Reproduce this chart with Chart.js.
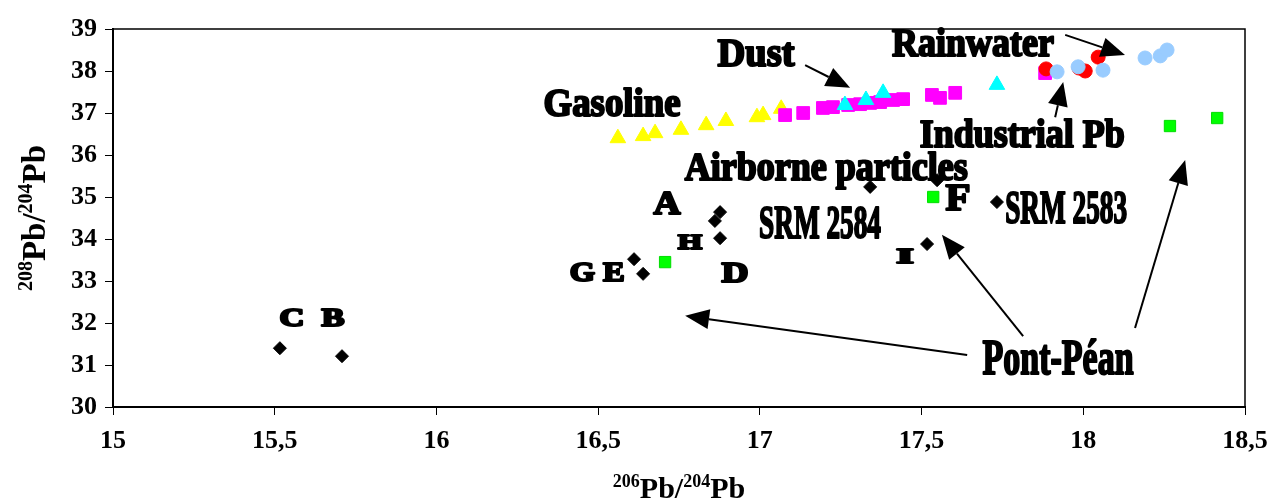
<!DOCTYPE html>
<html>
<head>
<meta charset="utf-8">
<script src="https://cdn.jsdelivr.net/npm/chart.js@4.4.1/dist/chart.umd.min.js"></script>
<style>
  html, body { margin: 0; padding: 0; background: #fff; }
  #wrap { width: 1273px; height: 502px; }
</style>
</head>
<body>
<div id="wrap"><canvas id="grafico"></canvas></div>
<script>
// Ticks dos eixos
const ticksX = [15, 15.5, 16, 16.5, 17, 17.5, 18, 18.5];
const ticksY = [30, 31, 32, 33, 34, 35, 36, 37, 38, 39];

// Séries: x = 206Pb/204Pb, y = 208Pb/204Pb
const gasolineX = [16.561, 16.639, 16.676, 16.756, 16.834, 16.895, 16.991, 17.010, 17.066];
const gasolineY = [36.40, 36.45, 36.52, 36.60, 36.71, 36.81, 36.90, 36.95, 37.10];

const dustX = [17.263, 17.328, 17.381, 17.733];
const dustY = [37.19, 37.31, 37.48, 37.67];

const magentaX = [17.078, 17.134, 17.195, 17.226, 17.273, 17.310, 17.341, 17.372, 17.412, 17.443, 17.532, 17.557, 17.604, 17.882];
const magentaY = [36.95, 37.00, 37.12, 37.14, 37.19, 37.21, 37.24, 37.26, 37.31, 37.33, 37.43, 37.36, 37.48, 37.95];

const rainX = [17.885, 17.987, 18.006, 18.046];
const rainY = [38.05, 38.07, 38.00, 38.33];

const industrialX = [17.919, 17.984, 18.061, 18.191, 18.238, 18.259];
const industrialY = [37.98, 38.10, 38.02, 38.31, 38.36, 38.50];

const airborneX = [15.516, 15.708, 16.611, 16.639, 16.861, 16.877, 16.877, 17.341, 17.548, 17.517, 17.733];
const airborneY = [31.40, 31.21, 33.52, 33.17, 34.43, 34.64, 34.02, 35.24, 35.40, 33.88, 34.88];

const pontPeanX = [16.707, 17.536, 18.268, 18.414];
const pontPeanY = [33.45, 35.00, 36.69, 36.88];

// Rótulos (texto) e onde ficam, em coordenadas dos dados
const labelTexts = ["Gasoline", "Dust", "Rainwater", "Industrial Pb", "Airborne particles", "A", "SRM 2584", "H", "F", "SRM 2583", "G E", "D", "I", "C  B", "Pont-Péan"];
const labelX = [16.543, 16.988, 17.659, 17.811, 17.205, 16.713, 17.186, 16.784, 17.613, 17.947, 16.497, 16.923, 17.449, 15.615, 17.922];
const labelY = [37.26, 38.45, 38.69, 36.52, 35.71, 34.86, 34.40, 33.93, 34.98, 34.76, 33.21, 33.21, 33.60, 32.14, 31.19];
// tamanho da fonte e largura final em px
const labelSize = [41, 41, 41, 41, 39, 34, 47, 22, 38, 47, 28, 30, 22, 26, 50];
const labelWidth = [137, 77, 162, 205, 283, 27, 122, 24, 25, 122, 55, 27, 17, 65, 151];

// Setas: [x0, y0, x1, y1] (ponta em x1, y1)
const arrows = [
  [17.140, 38.14, 17.279, 37.60],
  [17.944, 38.86, 18.129, 38.38],
  [17.913, 36.90, 17.938, 37.74],
  [17.641, 31.24, 16.769, 32.17],
  [17.814, 31.69, 17.563, 34.10],
  [18.160, 31.88, 18.315, 35.88],
];

function pontos(xs, ys) {
  return xs.map((x, i) => ({ x: x, y: ys[i] }));
}

const FONTE = '"Liberation Serif", "Times New Roman", serif';

// Texto em negrito, comprimido para caber na largura
function textoLargo(ctx, text, x, y, size, width) {
  ctx.save();
  ctx.font = "bold " + size + "px " + FONTE;
  const w = ctx.measureText(text).width;
  ctx.translate(x, y);
  ctx.scale(width / w, 1);
  ctx.textAlign = "center";
  ctx.textBaseline = "alphabetic";
  ctx.fillStyle = "#000";
  ctx.strokeStyle = "#000";
  ctx.lineWidth = 2.2;
  ctx.lineJoin = "round";
  const base = size * 0.33;
  ctx.strokeText(text, 0, base);
  ctx.fillText(text, 0, base);
  ctx.restore();
}

// Título com expoentes: partes [texto, sobrescrito?]
function tituloIsotopo(ctx, parts, cx, baseY, big, small) {
  let total = 0;
  parts.forEach(p => {
    ctx.font = "bold " + (p[1] ? small : big) + "px " + FONTE;
    total += ctx.measureText(p[0]).width;
  });
  let x = cx - total / 2;
  ctx.textAlign = "left";
  ctx.textBaseline = "alphabetic";
  ctx.fillStyle = "#000";
  parts.forEach(p => {
    ctx.font = "bold " + (p[1] ? small : big) + "px " + FONTE;
    ctx.fillText(p[0], x, p[1] ? baseY - big * 0.38 : baseY);
    x += ctx.measureText(p[0]).width;
  });
}

function seta(ctx, x0, y0, x1, y1) {
  const ang = Math.atan2(y1 - y0, x1 - x0);
  const len = 24, half = 10;
  const bx = x1 - len * Math.cos(ang), by = y1 - len * Math.sin(ang);
  ctx.beginPath();
  ctx.moveTo(x0, y0);
  ctx.lineTo(bx, by);
  ctx.lineWidth = 2;
  ctx.strokeStyle = "#000";
  ctx.stroke();
  ctx.beginPath();
  ctx.moveTo(x1, y1);
  ctx.lineTo(bx + half * Math.sin(ang), by - half * Math.cos(ang));
  ctx.lineTo(bx - half * Math.sin(ang), by + half * Math.cos(ang));
  ctx.closePath();
  ctx.fillStyle = "#000";
  ctx.fill();
}

const anotacoes = {
  id: "anotacoes",
  afterDatasetsDraw(chart) {
    const ctx = chart.ctx;
    const sx = chart.scales.x, sy = chart.scales.y;
    const area = chart.chartArea;

    // moldura fina em cima e à direita
    ctx.save();
    ctx.strokeStyle = "#000";
    ctx.lineWidth = 1.5;
    ctx.beginPath();
    ctx.moveTo(area.left, area.top);
    ctx.lineTo(area.right, area.top);
    ctx.lineTo(area.right, area.bottom);
    ctx.stroke();

    arrows.forEach(a => {
      seta(ctx, sx.getPixelForValue(a[0]), sy.getPixelForValue(a[1]),
        sx.getPixelForValue(a[2]), sy.getPixelForValue(a[3]));
    });

    labelTexts.forEach((t, i) => {
      textoLargo(ctx, t, sx.getPixelForValue(labelX[i]), sy.getPixelForValue(labelY[i]),
        labelSize[i], labelWidth[i]);
    });

    // títulos dos eixos
    tituloIsotopo(ctx, [["206", true], ["Pb/", false], ["204", true], ["Pb", false]],
      (area.left + area.right) / 2, 498, 30, 18);
    ctx.save();
    ctx.translate(45, (area.top + area.bottom) / 2);
    ctx.rotate(-Math.PI / 2);
    tituloIsotopo(ctx, [["208", true], ["Pb/", false], ["204", true], ["Pb", false]],
      0, 0, 33, 20);
    ctx.restore();
    ctx.restore();
  }
};

const fonteTick = { family: FONTE, size: 26, weight: "bold" };

new Chart(document.getElementById("grafico"), {
  type: "scatter",
  data: {
    datasets: [
      { label: "Industrial Pb", data: pontos(industrialX, industrialY), pointStyle: "circle", pointRadius: 7, backgroundColor: "#99CCFF", borderColor: "#99CCFF", borderWidth: 1 },
      { label: "Rainwater", data: pontos(rainX, rainY), pointStyle: "circle", pointRadius: 7, backgroundColor: "#FF0000", borderColor: "#FF0000", borderWidth: 1 },
      { label: "Dust", data: pontos(dustX, dustY), pointStyle: "triangle", pointRadius: 9, backgroundColor: "#00FFFF", borderColor: "#00FFFF", borderWidth: 1 },
      { label: "Magenta", data: pontos(magentaX, magentaY), pointStyle: "rect", pointRadius: 9, backgroundColor: "#FF00FF", borderColor: "#FF00FF", borderWidth: 1 },
      { label: "Gasoline", data: pontos(gasolineX, gasolineY), pointStyle: "triangle", pointRadius: 9, backgroundColor: "#FFFF00", borderColor: "#FFFF00", borderWidth: 1 },
      { label: "Pont-Péan", data: pontos(pontPeanX, pontPeanY), pointStyle: "rect", pointRadius: 8, backgroundColor: "#00FF00", borderColor: "#00DD00", borderWidth: 1 },
      { label: "Airborne particles", data: pontos(airborneX, airborneY), pointStyle: "rectRot", pointRadius: 6.5, backgroundColor: "#000", borderColor: "#000", borderWidth: 1 },
    ]
  },
  options: {
    responsive: true,
    maintainAspectRatio: false,
    animation: false,
    layout: { padding: { top: 29, right: 28, left: 0, bottom: 0 } },
    plugins: { legend: { display: false }, tooltip: { enabled: false } },
    scales: {
      x: {
        type: "linear",
        min: 15,
        max: 18.5,
        afterBuildTicks: s => { s.ticks = ticksX.map(v => ({ value: v })); },
        afterFit: s => { s.height = 95; s.paddingLeft = 0; s.paddingRight = 0; },
        grid: { drawOnChartArea: false, drawTicks: true, tickLength: 8, color: "#000", lineWidth: 1 },
        border: { display: true, color: "#000", width: 2 },
        ticks: { color: "#000", font: fonteTick, padding: 11, maxRotation: 0, autoSkip: false,
          callback: v => String(v).replace(".", ",") }
      },
      y: {
        type: "linear",
        min: 30,
        max: 39,
        afterBuildTicks: s => { s.ticks = ticksY.map(v => ({ value: v })); },
        afterFit: s => { s.width = 113; s.paddingTop = 0; s.paddingBottom = 0; },
        grid: { drawOnChartArea: false, drawTicks: true, tickLength: 8, color: "#000", lineWidth: 1 },
        border: { display: true, color: "#000", width: 2 },
        ticks: { color: "#000", font: fonteTick, padding: 8, autoSkip: false }
      }
    }
  },
  plugins: [anotacoes]
});
</script>
</body>
</html>
